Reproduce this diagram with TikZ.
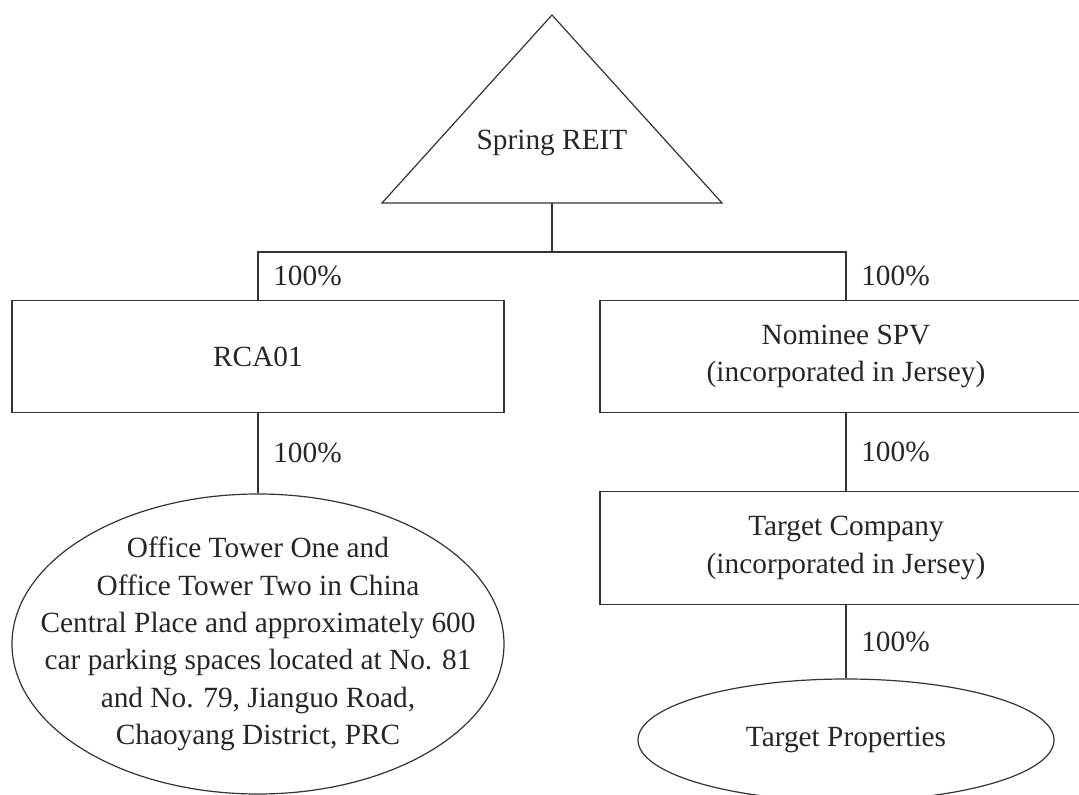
\documentclass[tikz,border=0pt]{standalone}
\usepackage{fontspec}
\setmainfont{Liberation Serif}
\usepackage{tikz}
\usetikzlibrary{shapes.geometric}
\tikzset{every picture/.style={x=0.75pt,y=-0.75pt,line width=0.9pt,draw=black!80,
    every node/.style={text=black!85,font=\fontsize{22pt}{28pt}\selectfont}},
  box/.style={rectangle,draw=black!80,minimum width=369pt,minimum height=84.5pt,align=center,inner sep=0pt},
  oval/.style={ellipse,draw=black!80,inner sep=0pt},
  pct/.style={anchor=west,inner sep=0pt,xshift=11pt}}

\begin{document}
\begin{tikzpicture}
        \useasboundingbox (0,0) rectangle (1079,795);
        \clip (0,0) rectangle (1079,795);

        % trust at the top
        \draw[black!80] (552,15) -- (382,203) -- (722,203) -- cycle;
        \coordinate (reitbase) at (552,203);
        \node[anchor=base] (reit) at (552,150) {Spring REIT};
        \coordinate (split) at (552,252);

        \node[box] (rca) at (258,356.5) {RCA01};
        \node[box] (spv) at (846,356.5) {Nominee SPV\\(incorporated in Jersey)};
        \node[box] (target) at (846,548) {Target Company\\(incorporated in Jersey)};
        \node[oval, minimum width=369pt, minimum height=225pt] (office) at (258,644) {};
        \node[align=center] (officetext) at (office.center) {Office Tower One and\\Office Tower Two in China\\Central Place and approximately 600\\car parking spaces located at No. 81\\and No. 79, Jianguo Road,\\Chaoyang District, PRC};
        \node[oval, minimum width=312pt, minimum height=91.5pt] (props) at (846,740) {Target Properties};

        \draw (reitbase) -- (split);
        \draw (split) -| node[pct, pos=0.75] (pctrca) {100\%} (rca.north);
        \draw (split) -| node[pct, pos=0.75] (pctspv) {100\%} (spv.north);
        \foreach \from/\to/\name in {
          rca/office/pctoffice,
          spv/target/pcttarget,
          target/props/pctprops}
        \draw (\from) -- node[pct] (\name) {100\%} (\to);
      \end{tikzpicture}
\end{document}
